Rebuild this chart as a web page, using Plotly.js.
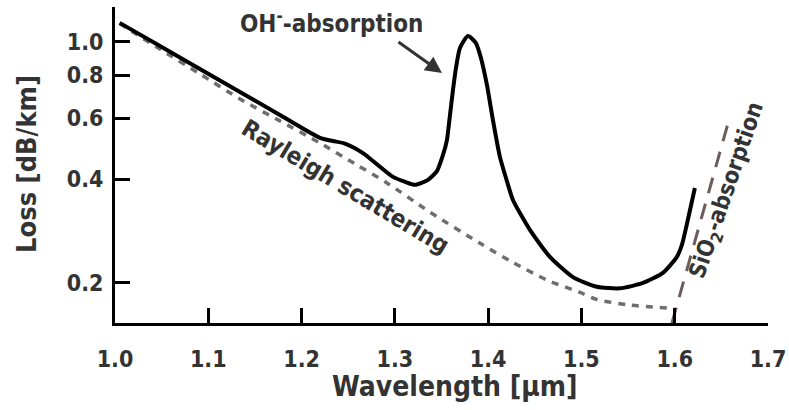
<!DOCTYPE html>
<html>
<head>
<meta charset="utf-8">
<script src="https://cdn.plot.ly/plotly-3.0.1.min.js"></script>
<style>html,body{margin:0;padding:0;background:#fff;}#chart{width:789px;height:410px;}</style>
</head>
<body>
<div id="chart"></div>
<script>
// Measured fibre loss (solid black)
const lossWavelength = [1.005, 1.0482, 1.1125, 1.1768, 1.2197, 1.2337, 1.2465, 1.2658, 1.298, 1.3108, 1.3215, 1.3355, 1.3451, 1.3516, 1.3558, 1.3591, 1.3623, 1.3655, 1.3698, 1.3783, 1.3869, 1.3923, 1.3987, 1.4051, 1.4126, 1.4201, 1.4266, 1.4448, 1.4662, 1.4909, 1.5166, 1.5413, 1.5659, 1.5873, 1.6023, 1.6077, 1.6141, 1.6216];
const lossValue      = [1.135, 0.973, 0.773, 0.614, 0.527, 0.516, 0.507, 0.476, 0.406, 0.393, 0.385, 0.398, 0.422, 0.470, 0.519, 0.614, 0.725, 0.840, 0.960, 1.040, 0.992, 0.898, 0.750, 0.594, 0.464, 0.395, 0.348, 0.285, 0.238, 0.208, 0.195, 0.193, 0.200, 0.214, 0.238, 0.258, 0.305, 0.377];

// Rayleigh scattering (grey dotted)
const rayleighWavelength = [1.005, 1.0482, 1.0911, 1.134, 1.1768, 1.2197, 1.2572, 1.2915, 1.3376, 1.391, 1.427, 1.463, 1.498, 1.517, 1.552, 1.595];
const rayleighValue      = [1.13, 0.953, 0.807, 0.683, 0.590, 0.509, 0.443, 0.39, 0.321, 0.261, 0.229, 0.204, 0.188, 0.179, 0.1726, 0.169];

// SiO2 absorption edge (brownish dashed)
const sio2Wavelength = [1.597, 1.628, 1.659];
const sio2Value      = [0.153, 0.305, 0.605];

// Axis ticks
const xTickVals = [1.0, 1.1, 1.2, 1.3, 1.4, 1.5, 1.6, 1.7];
const xTickText = ['1.0', '1.1', '1.2', '1.3', '1.4', '1.5', '1.6', '1.7'];
const yTickVals = [0.2, 0.4, 0.6, 0.8, 1.0];
const yTickText = ['0.2', '0.4', '0.6', '0.8', '1.0'];

const FONT = '"DejaVu Sans Condensed", "DejaVu Sans", sans-serif';
const TXT = '#333333';

const traces = [
  {x: rayleighWavelength, y: rayleighValue, mode: 'lines', type: 'scatter',
   line: {color: '#6e6e6e', width: 3.5, dash: '7px,7px', shape: 'spline', smoothing: 0.7}, hoverinfo: 'skip'},
  {x: sio2Wavelength, y: sio2Value, mode: 'lines', type: 'scatter',
   line: {color: '#6b5d5d', width: 3, dash: '16px,11px'}, hoverinfo: 'skip'},
  {x: lossWavelength, y: lossValue, mode: 'lines', type: 'scatter',
   line: {color: '#000000', width: 4, shape: 'spline', smoothing: 0.6}, hoverinfo: 'skip'}
];

const layout = {
  width: 789, height: 410,
  margin: {l: 115, r: 21, t: 7, b: 87, pad: 0},
  paper_bgcolor: '#ffffff', plot_bgcolor: '#ffffff',
  showlegend: false,
  font: {family: FONT, color: TXT},
  xaxis: {
    range: [1.0, 1.7], showgrid: false, zeroline: false,
    showline: true, linecolor: '#000', linewidth: 3,
    ticks: 'inside', ticklen: 15, tickwidth: 3, tickcolor: '#000',
    tickvals: xTickVals, ticktext: xTickText,
    tickfont: {family: FONT, size: 23, color: TXT, weight: 'bold'},
    ticklabelstandoff: 13
  },
  yaxis: {
    type: 'log', range: [-0.815, 0.101], showgrid: false, zeroline: false,
    showline: true, linecolor: '#000', linewidth: 3,
    ticks: 'inside', ticklen: 15, tickwidth: 3, tickcolor: '#000',
    tickvals: yTickVals, ticktext: yTickText,
    tickfont: {family: FONT, size: 23, color: TXT, weight: 'bold'},
    ticklabelstandoff: 4
  },
  annotations: [
    {xref: 'paper', yref: 'paper', x: (455 - 115) / 653, y: (323 - 386) / 316, text: 'Wavelength [µm]',
     showarrow: false, xanchor: 'center', yanchor: 'middle',
     font: {family: FONT, size: 28, color: TXT, weight: 'bold'}},
    {xref: 'paper', yref: 'paper', x: (26 - 115) / 653, y: (323 - 164) / 316, text: 'Loss [dB/km]',
     showarrow: false, xanchor: 'center', yanchor: 'middle', textangle: -90,
     font: {family: FONT, size: 27, color: TXT, weight: 'bold'}},
    {x: 1.2326, y: 0.0575, xref: 'x', yref: 'y', text: 'OH<sup>-</sup>-absorption', showarrow: false,
     font: {family: FONT, size: 24, color: TXT, weight: 'bold'}},
    {x: 1.3505, y: -0.0903, xref: 'x', yref: 'y', text: '', showarrow: true,
     ax: -45, ay: -32, arrowhead: 2, arrowsize: 1.1, arrowwidth: 3, arrowcolor: '#333333'},
    {x: 1.2475, y: -0.4207, xref: 'x', yref: 'y', text: 'Rayleigh scattering', showarrow: false, textangle: 31,
     font: {family: FONT, size: 24, color: TXT, weight: 'bold'}},
    {x: 1.657, y: -0.4294, xref: 'x', yref: 'y', text: 'SiO<sub>2</sub>-absorption', showarrow: false, textangle: -71,
     font: {family: FONT, size: 23, color: TXT, weight: 'bold'}}
  ]
};

Plotly.newPlot('chart', traces, layout, {staticPlot: true, displayModeBar: false});
</script>
</body>
</html>
